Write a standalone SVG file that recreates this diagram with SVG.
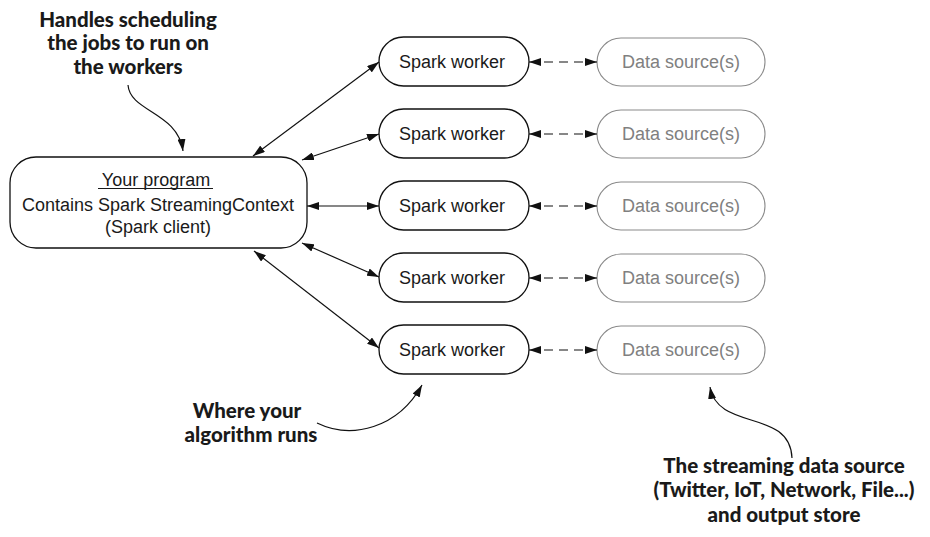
<svg xmlns="http://www.w3.org/2000/svg" width="930" height="537" viewBox="0 0 930 537">
<defs>
<marker id="arr" viewBox="0 0 12 8" refX="12" refY="4" markerWidth="12" markerHeight="8" markerUnits="userSpaceOnUse" orient="auto-start-reverse">
<path d="M0,0 L12,4 L0,8 z" fill="#111"/>
</marker>
<style>
.box{fill:#fff;stroke:#111;stroke-width:1.3}
.ds{fill:#fff;stroke:#8a8a8a;stroke-width:1.1}
.t{font-family:"Liberation Sans",Arial,sans-serif;font-size:18px;fill:#1a1a1a;text-anchor:middle}
.g{fill:#808080}
.ann{font-family:Lato,"Open Sans",sans-serif;font-weight:900;font-size:20.5px;fill:#1a1a1a;text-anchor:middle}
.c{fill:none;stroke:#111;stroke-width:1.2}
.d{stroke-dasharray:9,6}
</style>
</defs>
<rect width="930" height="537" fill="#fff"/>
<g id="program">
<rect class="box" x="10" y="157" width="297" height="91" rx="26"/>
<text class="t" x="156" y="186">Your program</text>
<line x1="98" y1="188.5" x2="213" y2="188.5" stroke="#1a1a1a" stroke-width="1"/>
<text class="t" x="158" y="211">Contains Spark StreamingContext</text>
<text class="t" x="158" y="233">(Spark client)</text>
</g>
<g id="worker1"><rect class="box" x="379" y="37" width="150" height="49" rx="24.5"/><text class="t" x="452" y="68">Spark worker</text></g>
<g id="worker2"><rect class="box" x="379" y="109" width="150" height="49" rx="24.5"/><text class="t" x="452" y="140">Spark worker</text></g>
<g id="worker3"><rect class="box" x="379" y="181" width="150" height="49" rx="24.5"/><text class="t" x="452" y="212">Spark worker</text></g>
<g id="worker4"><rect class="box" x="379" y="253" width="150" height="49" rx="24.5"/><text class="t" x="452" y="284">Spark worker</text></g>
<g id="worker5"><rect class="box" x="379" y="325" width="150" height="49" rx="24.5"/><text class="t" x="452" y="356">Spark worker</text></g>
<g id="source1"><rect class="ds" x="597" y="38" width="168" height="48" rx="24"/><text class="t g" x="681" y="68">Data source(s)</text></g>
<g id="source2"><rect class="ds" x="597" y="110" width="168" height="48" rx="24"/><text class="t g" x="681" y="140">Data source(s)</text></g>
<g id="source3"><rect class="ds" x="597" y="182" width="168" height="48" rx="24"/><text class="t g" x="681" y="212">Data source(s)</text></g>
<g id="source4"><rect class="ds" x="597" y="254" width="168" height="48" rx="24"/><text class="t g" x="681" y="284">Data source(s)</text></g>
<g id="source5"><rect class="ds" x="597" y="326" width="168" height="48" rx="24"/><text class="t g" x="681" y="356">Data source(s)</text></g>
<g id="note1">
<text class="ann" x="128" y="27">Handles scheduling</text>
<text class="ann" x="128" y="50">the jobs to run on</text>
<text class="ann" x="128" y="74">the workers</text>
</g>
<g id="note2">
<text class="ann" x="247" y="418">Where your</text>
<text class="ann" x="251" y="442">algorithm runs</text>
</g>
<g id="note3">
<text class="ann" x="784" y="473">The streaming data source</text>
<text class="ann" x="784" y="497">(Twitter, IoT, Network, File...)</text>
<text class="ann" x="784" y="522">and output store</text>
</g>
<g id="connectors">
<line class="c" x1="253" y1="156" x2="379" y2="62" marker-start="url(#arr)" marker-end="url(#arr)"/>
<line class="c" x1="302" y1="160" x2="379" y2="134" marker-start="url(#arr)" marker-end="url(#arr)"/>
<line class="c" x1="307" y1="206" x2="379" y2="206" marker-start="url(#arr)" marker-end="url(#arr)"/>
<line class="c" x1="302" y1="243" x2="379" y2="277" marker-start="url(#arr)" marker-end="url(#arr)"/>
<line class="c" x1="254" y1="251" x2="379" y2="348" marker-start="url(#arr)" marker-end="url(#arr)"/>
<line class="c d" x1="529" y1="62" x2="597" y2="62" marker-start="url(#arr)" marker-end="url(#arr)"/>
<line class="c d" x1="529" y1="134" x2="597" y2="134" marker-start="url(#arr)" marker-end="url(#arr)"/>
<line class="c d" x1="529" y1="206" x2="597" y2="206" marker-start="url(#arr)" marker-end="url(#arr)"/>
<line class="c d" x1="529" y1="278" x2="597" y2="278" marker-start="url(#arr)" marker-end="url(#arr)"/>
<line class="c d" x1="529" y1="350" x2="597" y2="350" marker-start="url(#arr)" marker-end="url(#arr)"/>
<path class="c" d="M128,85 C130,112 178,112 183,151" marker-end="url(#arr)"/>
<path class="c" d="M317,423 C352,440 398,428 422,385" marker-end="url(#arr)"/>
<path class="c" d="M792,458 C790,408 718,432 710,387" marker-end="url(#arr)"/>
</g>
</svg>
